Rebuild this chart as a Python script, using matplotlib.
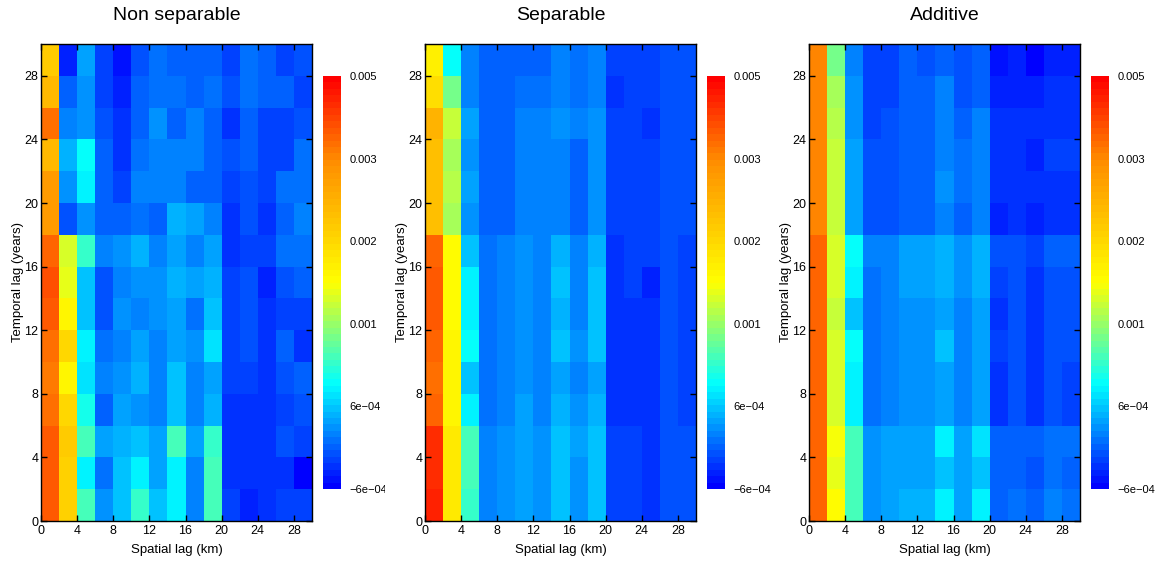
import numpy as np
import matplotlib

matplotlib.use("Agg")
import matplotlib.pyplot as plt
from matplotlib.colors import LinearSegmentedColormap, FuncNorm
from matplotlib.transforms import Bbox, TransformedBbox

plt.rcParams["font.family"] = ["Liberation Sans", "DejaVu Sans"]

titles = ["Non separable", "Separable", "Additive"]
lag_edges = np.arange(0, 32, 2)  # 15 cells of 2 km / 2 years
axis_ticks = np.arange(0, 30, 4)

# colour bar breaks and their (rounded) labels
cbar_breaks = [-6e-4, 6e-4, 0.001, 0.002, 0.003, 0.005]
cbar_labels = ["\u22126e\u221204", "6e\u221204", "0.001", "0.002", "0.003", "0.005"]

# rows: temporal lag 0-2 (first) ... 28-30 (last); columns: spatial lag 0-2 ... 28-30
# values in units of 1e-4
non_separable = np.array([
    [37, 21, 8.5, 3, 5.8, 8, 5.4, 6.7, 2, 8.5, -1.5, -3.5, -2.5, -1.5, -1.5],
    [36, 21, 6.8, 1, 5.8, 6.8, 4.2, 6.8, 2, 8.3, -2.5, -2.5, -3, -3, -5.5],
    [37, 22, 8.5, 3.5, 5, 5.4, 3.5, 8.5, 3.5, 8, -2.5, -2.5, -2.5, -1, -1.5],
    [33, 20, 7.5, 0.5, 4.2, 3, 2, 6, 2, 5, -2.5, -2.5, -2.5, -1.5, -1],
    [32, 16.5, 6.4, 1.5, 3, 5, 2, 5.8, 1.5, 3.5, -1.5, -1.5, -2.5, -0.5, 0.5],
    [33, 20, 6.8, 1, 2, 4.2, 2, 3.5, 3, 6.4, -1.5, -1, -2.5, 0.5, -3],
    [37, 16, 5.4, -0.5, 3, 2, 3, 3.5, 1, 5.4, -1.5, -1, -3, -1.5, -1.5],
    [38, 14, 5.8, -0.5, 1.5, 3, 3, 5, 3.5, 5, -1.5, -1, -3.5, -0.5, 0.5],
    [35, 13, 8, 1.5, 3, 5, 2, 3.5, 2, 3.5, -2.5, -1.5, -1.5, 1, 1],
    [28, -0.5, 3, 0.5, 0.5, 1, 0.5, 5, 3.5, 2, -2.5, -1, -2.5, 0, 2],
    [28, 3, 6.7, 0, -1.5, 2, 2, 2, 0, 0, -1.5, -1, -1.5, 1, 1],
    [24, 5, 7, 0, -2.5, 1, 1.5, 1.5, 1.5, 0.5, -1, 0, -1.5, -1.5, 1],
    [33, 1.5, 3, -1, -2.5, 0, 3, 0.5, 1.5, 0.5, -3, 0, -1.5, -1.5, -0.5],
    [24, 0, 3, -1.5, -4, 0.5, 1, 1, 0, 1, -0.5, 1, 0.5, 0.5, -1.5],
    [22, -4, 3.5, -1.5, -5, -1, 1, 0.5, 0, 0.5, -1.5, 1, 0.5, -1.5, -1],
]) * 1e-4

separable = np.array([
    [44, 18, 8, 1.5, 3, 4.2, 3, 6, 3, 6, -1.5, -1.5, -2.5, -0.5, -1],
    [43, 18, 8.3, 1.5, 3, 4.2, 3, 6, 3, 6, -1.5, -1.5, -2.5, -0.5, -1],
    [43, 18, 8.3, 1.5, 3, 4.2, 3, 5.8, 3.5, 5.8, -1.5, -1.5, -2.5, -0.5, -1],
    [35, 16.5, 6.8, 1, 2, 3.5, 2, 5, 3, 5, -2.5, -2.5, -2.5, -1, -1.5],
    [34, 16, 5.8, 1, 2, 3, 1.5, 4.2, 2, 4.2, -2.5, -2.5, -2.5, -1, -1.5],
    [35, 16, 7, 1, 2, 3, 2, 5.4, 3, 5.4, -2.5, -2.5, -3, -1, -1.5],
    [36, 15.5, 6.8, 1, 2, 3, 2, 5, 2, 5.4, -2.5, -2.5, -3, -1, -1.5],
    [37, 15.5, 6.9, 1, 2, 3, 2, 5.4, 2, 5.4, -2.5, -1.5, -3.5, -1, -1.5],
    [35, 15.5, 6, 1, 1.5, 3, 2, 5, 2, 5, -2.5, -1.5, -1.5, -1, -1.5],
    [23.5, 11, 3, 0.5, 0.5, 1.5, 1.5, 2, 0.5, 3, -1.5, -1.5, -1.5, -1, -1],
    [23.5, 11.5, 3.5, 0.5, 0.5, 1.5, 1.5, 2, 0.5, 3, -1.5, -1.5, -1.5, -1, -1],
    [23, 10.5, 3, 0.5, 0.5, 1.5, 1.5, 2, 0.5, 3, -1.5, -1.5, -1.5, -1, -1],
    [25, 12, 3.5, 0.5, 0.5, 1.5, 1.5, 3, 1.5, 3, -1.5, -1.5, -3, -1, -1],
    [19, 9.2, 2, 0, 0, 1, 1, 1.5, 1, 2, -2.5, -1.5, -1.5, -1, -1],
    [17, 7.2, 2, 0, 0, 0.5, 0.5, 1.5, 1, 2, -1.5, -1.5, -1.5, -1, -1],
]) * 1e-4

additive = np.array([
    [35, 15.5, 8.5, 3, 3.5, 5, 5, 6.8, 4.2, 6.8, 0, 1, 0, 1.5, 1],
    [35, 14, 8.3, 3, 3.5, 4.2, 4.2, 6, 3.5, 6, 0, 0.5, -0.5, 1, 0.5],
    [35, 14.5, 8.3, 3, 3.5, 4.2, 4.2, 6.8, 3.5, 6.5, 0, 0.5, 0, 1, 1],
    [35, 12.7, 6.8, 1, 1.5, 3, 3, 4.2, 2, 4.2, -2.5, -1, -2.5, -1, -1.5],
    [35, 12.7, 6.7, 1, 1.5, 3, 3, 4.2, 2, 4.2, -2.5, -1, -2.5, -0.5, -1.5],
    [35, 12.7, 7, 1, 1.5, 3, 3, 5.4, 2, 4.2, -1.5, -1, -2.5, -0.5, -0.5],
    [35, 12, 5.8, 1, 1.5, 3, 3, 3.5, 2, 3.5, -3, -1, -3, -1, -1],
    [35, 12.7, 6.7, 1, 2, 3.5, 3.5, 5, 3, 5, -1.5, -0.5, -2.5, -0.5, -0.5],
    [35, 13, 7, 1.5, 2, 3.5, 3.5, 5, 3, 5, -1, -0.5, -1.5, 0, 0],
    [30, 12, 3.5, -1, -0.5, 0.5, 0.5, 1.5, 0.5, 1.5, -3.5, -3, -3.5, -2.5, -2.5],
    [30, 12, 3.5, -1, -0.5, 0.5, 0.5, 3, 1, 1.5, -3, -2.5, -3, -2.5, -2.5],
    [30, 12, 3.5, -1, -0.5, 0.5, 0.5, 2, 1, 2, -3, -2.5, -3.5, -1.5, -1.5],
    [30, 11.5, 3, -1.5, -1, 0, 0, 2, 0.5, 1.5, -3, -3, -3, -3, -3],
    [30, 11, 3, -1.5, -1.5, 0, 0, 1.5, -0.5, 0.5, -3.5, -3.5, -3.5, -3, -3],
    [30, 9.2, 2, -1.5, -1.5, 0, -0.5, 0.5, -0.5, 0.5, -5, -3.5, -5.5, -3.5, -3.5],
]) * 1e-4

panels = [non_separable, separable, additive]

cmap = LinearSegmentedColormap.from_list(
    "bcyr",
    [(0.0, "#0000FF"), (0.25, "#00FFFF"), (0.5, "#FFFF00"), (0.8, "#FF8C00"), (1.0, "#FF0000")],
    N=64,
)
break_pos = np.linspace(0, 1, len(cbar_breaks))
norm = FuncNorm(
    (lambda v: np.interp(v, cbar_breaks, break_pos), lambda p: np.interp(p, break_pos, cbar_breaks)),
    vmin=cbar_breaks[0],
    vmax=cbar_breaks[-1],
)

W, H = 1161, 563
fig = plt.figure(figsize=(W / 100, H / 100), dpi=100)

ax_lefts = [41, 425, 809]
for i, (data, title) in enumerate(zip(panels, titles)):
    left = ax_lefts[i]
    ax = fig.add_axes([left / W, 42 / H, 271 / W, 477 / H])
    mesh = ax.pcolormesh(lag_edges, lag_edges, data, cmap=cmap, norm=norm)
    ax.set_xlim(0, 30)
    ax.set_ylim(0, 30)
    ax.set_xticks(axis_ticks)
    ax.set_yticks(axis_ticks)
    ax.tick_params(direction="in", top=True, right=True, length=4, width=1,
                   labelsize=9, pad=2, colors="black")
    ax.tick_params(axis="x", pad=3)
    for sp in ax.spines.values():
        sp.set_linewidth(1)
    ax.set_title(title, fontsize=14, pad=17)
    ax.set_xlabel("Spatial lag (km)", fontsize=9.5, labelpad=5)
    ax.set_ylabel("Temporal lag (years)", fontsize=9.5, labelpad=0)

    cax = fig.add_axes([(left + 282) / W, 74 / H, 18 / W, 413 / H])
    cb = fig.colorbar(mesh, cax=cax)
    cb.outline.set_visible(False)
    cb.set_ticks(cbar_breaks, labels=cbar_labels)
    cax.tick_params(length=0, labelsize=8, pad=6)
    # labels spill into the neighbouring panel and get cut there
    clip_right = (i + 1) * W / 3 - 2
    for lab in cax.get_yticklabels():
        lab.set_clip_box(TransformedBbox(Bbox.from_extents(0, 0, clip_right / W, 1), fig.transFigure))
        lab.set_clip_on(True)

fig.savefig("out.png", dpi=100)
